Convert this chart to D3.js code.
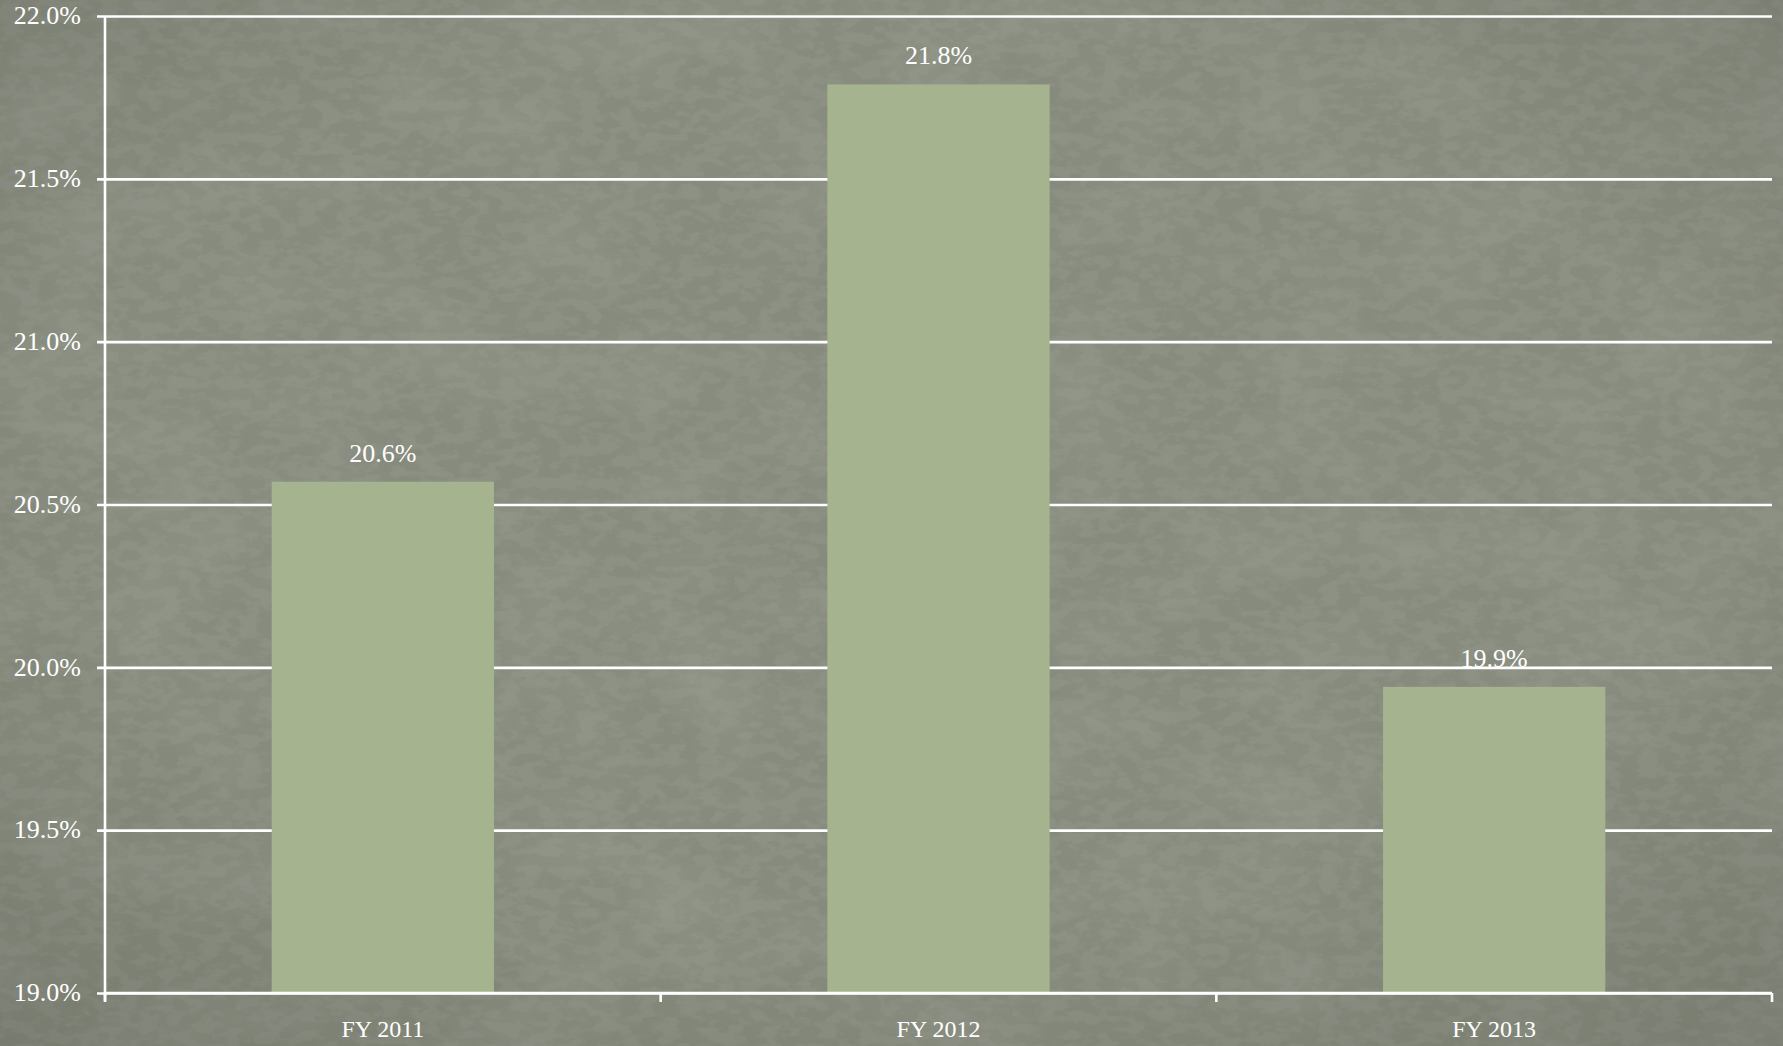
<!DOCTYPE html>
<html>
<head>
<meta charset="utf-8">
<script src="https://cdn.jsdelivr.net/npm/d3@7"></script>
<style>
  html, body { margin: 0; padding: 0; background: #868a7c; }
  svg { display: block; }
  text { font-family: "Liberation Serif", "DejaVu Serif", serif; fill: #ffffff; }
</style>
</head>
<body>
<svg id="chart" width="1783" height="1046"></svg>
<script>
// Fiscal years and their rates (percent)
const categories = ["FY 2011", "FY 2012", "FY 2013"];
const rates = [20.57, 21.79, 19.94];
const yTicks = [19.0, 19.5, 20.0, 20.5, 21.0, 21.5, 22.0];

const W = 1783, H = 1046;
const margin = { top: 16, right: 11, bottom: 53, left: 105 };
const svg = d3.select("#chart");
const defs = svg.append("defs");

// Paper-like texture for the backdrop: faint mottling plus fine dark specks
const tex = defs.append("filter").attr("id", "grain")
  .attr("x", 0).attr("y", 0).attr("width", "100%").attr("height", "100%");
tex.append("feTurbulence").attr("type", "fractalNoise")
  .attr("baseFrequency", "0.05 0.09").attr("numOctaves", 4).attr("seed", 11).attr("result", "n");
tex.append("feColorMatrix").attr("in", "n").attr("type", "matrix")
  .attr("values", "0 0 0 0 0.36  0 0 0 0 0.38  0 0 0 0 0.33  0 0 0 -6 3.4");

const tex2 = defs.append("filter").attr("id", "mottle")
  .attr("x", 0).attr("y", 0).attr("width", "100%").attr("height", "100%");
tex2.append("feTurbulence").attr("type", "fractalNoise")
  .attr("baseFrequency", "0.008 0.012").attr("numOctaves", 3).attr("seed", 3).attr("result", "n");
tex2.append("feColorMatrix").attr("in", "n").attr("type", "matrix")
  .attr("values", "0 0 0 0 0.60  0 0 0 0 0.62  0 0 0 0 0.57  0 0 0 2 -0.8");

const vign = defs.append("radialGradient").attr("id", "vign")
  .attr("cx", "50%").attr("cy", "45%").attr("r", "75%");
vign.append("stop").attr("offset", "0.6").attr("stop-color", "#000").attr("stop-opacity", 0);
vign.append("stop").attr("offset", "1").attr("stop-color", "#000").attr("stop-opacity", 0.12);

svg.append("rect").attr("width", W).attr("height", H).attr("fill", "#878b7d");
svg.append("rect").attr("width", W).attr("height", H).attr("filter", "url(#mottle)").attr("opacity", 0.12);
svg.append("rect").attr("width", W).attr("height", H).attr("filter", "url(#grain)").attr("opacity", 0.22);
svg.append("rect").attr("width", W).attr("height", H).attr("fill", "url(#vign)");

const x = d3.scaleBand()
  .domain(categories)
  .range([margin.left, W - margin.right])
  .paddingInner(0.6)
  .paddingOuter(0.3);

const y = d3.scaleLinear()
  .domain([19, 22])
  .range([H - margin.bottom, margin.top]);

const fmt = v => d3.format(".1f")(v) + "%";
const lineW = 2.6;

// Horizontal gridlines with outward tick stubs and labels
const yAxis = svg.append("g")
  .attr("transform", `translate(${margin.left},0)`)
  .call(d3.axisLeft(y).tickValues(yTicks).tickFormat(fmt)
    .tickSizeInner(-(W - margin.left - margin.right)).tickSizeOuter(0).tickPadding(0));
yAxis.select(".domain").remove();
yAxis.selectAll(".tick line")
  .attr("x1", -8)
  .attr("stroke", "#ffffff").attr("stroke-width", lineW);
yAxis.selectAll(".tick text")
  .attr("x", -24).attr("dy", "0.3em")
  .attr("font-size", 26);

// Vertical axis line
svg.append("line")
  .attr("x1", margin.left).attr("x2", margin.left)
  .attr("y1", y(22)).attr("y2", y(19) + 8)
  .attr("stroke", "#ffffff").attr("stroke-width", lineW);

// Bars
svg.append("g").selectAll("rect")
  .data(rates)
  .join("rect")
  .attr("x", (d, i) => x(categories[i]))
  .attr("width", x.bandwidth())
  .attr("y", d => y(d))
  .attr("height", d => y(19) - y(d))
  .attr("fill", "#a5b38f");

// Value labels above bars
svg.append("g").selectAll("text")
  .data(rates)
  .join("text")
  .attr("x", (d, i) => x(categories[i]) + x.bandwidth() / 2)
  .attr("y", d => y(d) - 20)
  .attr("text-anchor", "middle")
  .attr("font-size", 26)
  .text(d => fmt(d));

// Category axis along the bottom, ticks at band boundaries
const step = x.step();
const bounds = d3.range(categories.length + 1).map(i => margin.left + i * step);
const xg = svg.append("g");
xg.append("line")
  .attr("x1", margin.left).attr("x2", W - margin.right)
  .attr("y1", y(19)).attr("y2", y(19))
  .attr("stroke", "#ffffff").attr("stroke-width", lineW);
xg.selectAll("line.tk")
  .data(bounds)
  .join("line").attr("class", "tk")
  .attr("x1", d => d).attr("x2", d => d)
  .attr("y1", y(19)).attr("y2", y(19) + 9)
  .attr("stroke", "#ffffff").attr("stroke-width", lineW);
xg.selectAll("text")
  .data(categories)
  .join("text")
  .attr("x", d => x(d) + x.bandwidth() / 2)
  .attr("y", y(19) + 44)
  .attr("text-anchor", "middle")
  .attr("font-size", 24)
  .text(d => d);
</script>
</body>
</html>
